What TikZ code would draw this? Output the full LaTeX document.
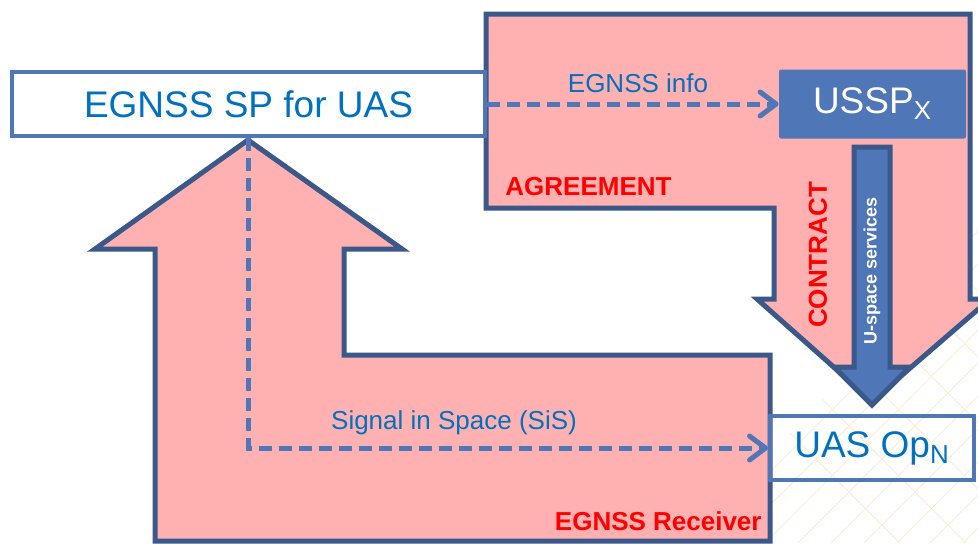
\documentclass[tikz,border=0pt]{standalone}
\usepackage{fontspec}
\setmainfont{Liberation Sans}
\usetikzlibrary{arrows.meta}
\definecolor{pinkfill}{RGB}{255,177,177}
\definecolor{edgeblue}{RGB}{59,88,138}
\definecolor{midblue}{RGB}{79,118,182}
\definecolor{txtblue}{RGB}{0,112,192}
\definecolor{hatch}{RGB}{252,236,214}

\begin{document}
\begin{tikzpicture}[x=0.5pt,y=-0.5pt,
    big/.style={fill=pinkfill,draw=edgeblue,line width=2.5pt,line join=miter},
    infoarrow/.style={draw=midblue,line width=2.5pt,dash pattern=on 6.5pt off 3.5pt,-{Straight Barb[length=8pt,width=12pt,round]}},
    lbl/.style={inner sep=0pt,text=txtblue,font=\fontsize{13pt}{15pt}\selectfont},
    redlbl/.style={inner sep=0pt,text=red,font=\fontsize{13pt}{15pt}\selectfont\bfseries},
    bigtxt/.style={inner sep=0pt,font=\fontsize{18.5pt}{22pt}\selectfont}]
      \useasboundingbox (0,0) rectangle (978,543);
      % faint hatching of the slide, lower right
      \begin{scope}
        \clip (690,543) -- (978,230) -- (978,543) -- cycle;
        \foreach \i in {600,633,...,1000}{\draw[hatch,line width=0.5pt] (\i,543) -- ++(400,-400);}
        \foreach \i in {500,566,...,980}{\draw[hatch,line width=0.5pt] (\i,143) -- ++(400,400);}
      \end{scope}
      % agreement -> contract arrow
      \draw[big] (486,14) -- (970,14) -- (970,299) -- (990,299) -- (872,401) -- (757,299) -- (774,299) -- (774,208) -- (486,208) -- cycle;
      % receiver arrow, tip at (248,140)
      \draw[big] (248,140) -- (402,249) -- (344,249) -- (344,355) -- (770,355) -- (770,541) -- (155,541) -- (155,249) -- (95,249) -- cycle;
      % U-space services arrow
      \draw[fill=midblue,draw=edgeblue,line width=2.5pt] (854,147) -- (890,147) -- (890,367) -- (910,367) -- (872,405) -- (834,367) -- (854,367) -- cycle;
      \node[bigtxt,draw=midblue,line width=2pt,fill=white,minimum width=236.5pt,minimum height=32pt,text=txtblue] (sp) at (248.5,104) {EGNSS SP for UAS};
      \node[bigtxt,fill=midblue,rounded corners=1pt,minimum width=93.5pt,minimum height=34.5pt,text=white] (ussp) at (872.5,104) {USSP\textsubscript{X}};
      \node[bigtxt,draw=midblue,line width=2pt,minimum width=102pt,minimum height=32pt,text=txtblue] (uasop) at (872,448) {UAS Op\textsubscript{N}};
      \draw[infoarrow] (sp.east) -- (ussp.west);
      \draw[infoarrow] (sp.south) |- (uasop.west);
      \node[lbl] (infolbl) at (638,83) {EGNSS info};
      \node[lbl] (sislbl) at (454,423) {Signal in Space (SiS)};
      \node[redlbl,anchor=west] (agree) at (505,187) {AGREEMENT};
      \node[redlbl,rotate=90] (contract) at (818,255) {CONTRACT};
      \node[redlbl,anchor=east] (recv) at (762,521) {EGNSS Receiver};
      \node[inner sep=0pt,text=white,font=\fontsize{9pt}{11pt}\selectfont\bfseries,rotate=90] (usvc) at (872,271) {U-space services};
    \end{tikzpicture}
\end{document}
